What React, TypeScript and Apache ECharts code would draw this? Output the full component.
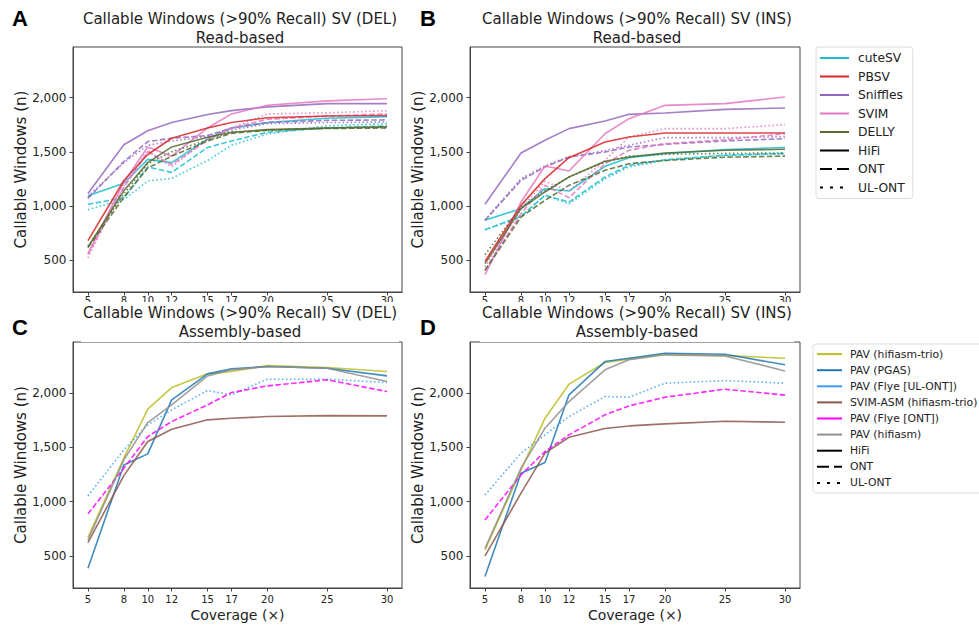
import React, { useEffect, useRef } from "react";
import * as echarts from "echarts";

const FONT = '"DejaVu Sans", "Noto Sans", sans-serif';

// Coverage (x) values
const coverage = [5, 8, 10, 12, 15, 17, 20, 25, 30];
const xTicks = [5, 8, 10, 12, 15, 17, 20, 25, 30];
const yTicks = [500, 1000, 1500, 2000];

// Panel A: DEL, read-based
const aCuteSvHifi = [1095, 1210, 1430, 1400, 1620, 1720, 1770, 1810, 1825];
const aCuteSvOnt = [1015, 1075, 1360, 1310, 1540, 1600, 1680, 1720, 1740];
const aCuteSvUl = [965, 1060, 1230, 1255, 1420, 1560, 1665, 1740, 1760];
const aPbsvHifi = [680, 1235, 1475, 1625, 1720, 1770, 1815, 1830, 1835];
const aSnifflesHifi = [1115, 1565, 1695, 1770, 1845, 1880, 1915, 1945, 1945];
const aSnifflesOnt = [1070, 1410, 1595, 1625, 1650, 1720, 1770, 1790, 1795];
const aSnifflesUl = [1085, 1400, 1560, 1600, 1640, 1700, 1760, 1770, 1775];
const aSvimHifi = [560, 1220, 1545, 1460, 1720, 1850, 1930, 1970, 1990];
const aSvimOnt = [550, 1170, 1500, 1380, 1610, 1720, 1800, 1830, 1850];
const aSvimUl = [520, 1190, 1510, 1360, 1620, 1720, 1850, 1860, 1880];
const aDellyHifi = [620, 1140, 1400, 1545, 1635, 1680, 1705, 1720, 1730];
const aDellyOnt = [615, 1080, 1350, 1460, 1600, 1670, 1700, 1715, 1720];
const aDellyUl = [630, 1110, 1390, 1500, 1610, 1680, 1700, 1720, 1725];

// Panel B: INS, read-based
const bCuteSvHifi = [867, 975, 1159, 1138, 1366, 1446, 1483, 1520, 1540];
const bCuteSvOnt = [781, 904, 1098, 1036, 1267, 1375, 1427, 1467, 1485];
const bCuteSvUl = [780, 900, 1100, 1020, 1250, 1360, 1420, 1470, 1480];
const bPbsvHifi = [488, 1005, 1252, 1446, 1590, 1637, 1674, 1674, 1674];
const bSnifflesHifi = [1015, 1489, 1606, 1714, 1784, 1846, 1858, 1892, 1905];
const bSnifflesOnt = [867, 1236, 1360, 1452, 1498, 1544, 1569, 1600, 1621];
const bSnifflesUl = [870, 1252, 1370, 1455, 1510, 1560, 1631, 1631, 1640];
const bSvimHifi = [365, 1036, 1369, 1323, 1667, 1806, 1929, 1945, 2006];
const bSvimOnt = [405, 929, 1190, 1076, 1390, 1514, 1575, 1612, 1667];
const bSvimUl = [436, 975, 1227, 1138, 1421, 1637, 1714, 1714, 1751];
const bDellyHifi = [467, 975, 1129, 1267, 1412, 1452, 1489, 1514, 1523];
const bDellyOnt = [405, 898, 1052, 1190, 1329, 1390, 1420, 1450, 1460];
const bDellyUl = [550, 990, 1140, 1267, 1405, 1460, 1477, 1485, 1490];

// Panel C: DEL, assembly-based
const cHifiasmTrio = [672, 1399, 1850, 2049, 2175, 2196, 2251, 2233, 2196];
const cPgas = [387, 1337, 1439, 1936, 2175, 2221, 2242, 2227, 2156];
const cFlyeUl = [1052, 1476, 1706, 1844, 2021, 1982, 2126, 2126, 2095];
const cSvimAsm = [623, 1239, 1552, 1666, 1752, 1767, 1782, 1791, 1788];
const cFlyeOnt = [887, 1307, 1598, 1736, 1890, 2003, 2064, 2120, 2012];
const cHifiasm = [647, 1384, 1727, 1890, 2156, 2212, 2242, 2227, 2104];

// Panel D: INS, assembly-based
const dHifiasmTrio = [555, 1292, 1767, 2080, 2279, 2310, 2356, 2343, 2319];
const dPgas = [310, 1261, 1359, 1982, 2288, 2319, 2365, 2356, 2258];
const dFlyeUl = [1061, 1445, 1614, 1782, 1966, 1960, 2089, 2113, 2089];
const dSvimAsm = [500, 1077, 1445, 1592, 1672, 1696, 1715, 1739, 1730];
const dFlyeOnt = [831, 1246, 1460, 1614, 1798, 1880, 1960, 2034, 1979];
const dHifiasm = [571, 1307, 1675, 1920, 2212, 2304, 2350, 2340, 2202];

const C_CUTESV = "#17becf";
const C_PBSV = "#d62728";
const C_SNIFFLES = "#9467bd";
const C_SVIM = "#e377c2";
const C_DELLY = "#556b2f";
const C_TRIO = "#bcbd22";
const C_PGAS = "#1f77b4";
const C_FLYEUL = "#3d9df5";
const C_SVIMASM = "#8c564b";
const C_FLYEONT = "#ff00ff";
const C_HIFIASM = "#8f8f8f";

const DASH = [5.5, 2.4];
const DOT = [1.5, 2.5];

function line(name: string, values: number[], color: string, type: any, idx: number) {
  return {
    type: "line",
    name,
    xAxisIndex: idx,
    yAxisIndex: idx,
    data: coverage.map((c, i) => [c, values[i]]),
    symbol: "none",
    showSymbol: false,
    silent: true,
    color,
    lineStyle: { color, width: 1.6, type, opacity: 0.85 },
    emphasis: { disabled: true },
  };
}

function legendSeries(name: string, color: string, type: any) {
  return {
    type: "line",
    name,
    xAxisIndex: 0,
    yAxisIndex: 0,
    data: [],
    symbol: "none",
    showSymbol: false,
    color,
    lineStyle: { color, width: 3, type },
  };
}

const grids = [
  { left: 73, top: 47, width: 329, height: 245 },
  { left: 470, top: 47, width: 330, height: 245 },
  { left: 73, top: 342, width: 329, height: 246 },
  { left: 470, top: 342, width: 330, height: 246 },
];

const AXIS_COLOR = "#444";

function xAxis(idx: number, bottomRow: boolean) {
  return {
    type: "value",
    gridIndex: idx,
    min: 3.75,
    max: 31.25,
    name: bottomRow ? "Coverage (×)" : "",
    nameLocation: "middle",
    nameGap: 20,
    nameTextStyle: { fontFamily: FONT, fontSize: 14, color: "#222" },
    axisLine: { show: true, onZero: false, lineStyle: { color: AXIS_COLOR, width: 1 } },
    axisTick: { show: true, length: 3.5, customValues: xTicks, lineStyle: { color: AXIS_COLOR } },
    axisLabel: {
      customValues: xTicks,
      fontFamily: FONT,
      fontSize: 10,
      color: "#222",
      margin: bottomRow ? 6 : 3,
    },
    splitLine: { show: false },
  };
}

function yAxis(idx: number) {
  return {
    type: "value",
    gridIndex: idx,
    min: 205,
    max: 2468,
    name: "Callable Windows (n)",
    nameLocation: "middle",
    nameGap: 44,
    nameTextStyle: { fontFamily: FONT, fontSize: 15, color: "#222" },
    axisLine: { show: true, lineStyle: { color: AXIS_COLOR, width: 1 } },
    axisTick: { show: true, length: 3.5, customValues: yTicks, lineStyle: { color: AXIS_COLOR } },
    axisLabel: {
      customValues: yTicks,
      fontFamily: FONT,
      fontSize: 12,
      color: "#222",
      margin: 6.5,
      formatter: (v: number) => v.toLocaleString("en-US"),
    },
    splitLine: { show: false },
  };
}

function panelTitle(text: string, cx: number, top: number, bg: boolean) {
  return {
    text,
    left: cx,
    top,
    textAlign: "center",
    padding: [1, 2, 0, 2],
    backgroundColor: bg ? "#fff" : "transparent",
    z: 8,
    textStyle: { fontFamily: FONT, fontSize: 15, fontWeight: "normal", color: "#222", lineHeight: 19.5 },
  };
}

function panelLetter(text: string, left: number, top: number) {
  return {
    text,
    left,
    top,
    padding: 0,
    z: 9,
    textStyle: { fontFamily: "Liberation Sans, Arial, sans-serif", fontSize: 22, fontWeight: "bold", color: "#000" },
  };
}

export default function App() {
  const ref = useRef<HTMLDivElement>(null);
  useEffect(() => {
    if (!ref.current) return;
    const chart = echarts.init(ref.current, undefined, { renderer: "svg" });
    const series: any[] = [
      legendSeries("cuteSV", C_CUTESV, "solid"),
      legendSeries("PBSV", C_PBSV, "solid"),
      legendSeries("Sniffles", C_SNIFFLES, "solid"),
      legendSeries("SVIM", C_SVIM, "solid"),
      legendSeries("DELLY", C_DELLY, "solid"),
      legendSeries("PAV (hifiasm-trio)", C_TRIO, "solid"),
      legendSeries("PAV (PGAS)", C_PGAS, "solid"),
      legendSeries("PAV (Flye [UL-ONT])", C_FLYEUL, "solid"),
      legendSeries("SVIM-ASM (hifiasm-trio)", C_SVIMASM, "solid"),
      legendSeries("PAV (Flye [ONT])", C_FLYEONT, "solid"),
      legendSeries("PAV (hifiasm)", C_HIFIASM, "solid"),
      legendSeries("HiFi", "#000", "solid"),
      legendSeries("ONT", "#000", [12, 5]),
      legendSeries("UL-ONT", "#000", [3, 7]),

      line("A cuteSV HiFi", aCuteSvHifi, C_CUTESV, "solid", 0),
      line("A cuteSV ONT", aCuteSvOnt, C_CUTESV, DASH, 0),
      line("A cuteSV UL-ONT", aCuteSvUl, C_CUTESV, DOT, 0),
      line("A Sniffles HiFi", aSnifflesHifi, C_SNIFFLES, "solid", 0),
      line("A Sniffles ONT", aSnifflesOnt, C_SNIFFLES, DASH, 0),
      line("A Sniffles UL-ONT", aSnifflesUl, C_SNIFFLES, DOT, 0),
      line("A SVIM HiFi", aSvimHifi, C_SVIM, "solid", 0),
      line("A SVIM ONT", aSvimOnt, C_SVIM, DASH, 0),
      line("A SVIM UL-ONT", aSvimUl, C_SVIM, DOT, 0),
      line("A DELLY HiFi", aDellyHifi, C_DELLY, "solid", 0),
      line("A DELLY ONT", aDellyOnt, C_DELLY, DASH, 0),
      line("A DELLY UL-ONT", aDellyUl, C_DELLY, DOT, 0),
      line("A PBSV HiFi", aPbsvHifi, C_PBSV, "solid", 0),

      line("B cuteSV HiFi", bCuteSvHifi, C_CUTESV, "solid", 1),
      line("B cuteSV ONT", bCuteSvOnt, C_CUTESV, DASH, 1),
      line("B cuteSV UL-ONT", bCuteSvUl, C_CUTESV, DOT, 1),
      line("B Sniffles HiFi", bSnifflesHifi, C_SNIFFLES, "solid", 1),
      line("B Sniffles ONT", bSnifflesOnt, C_SNIFFLES, DASH, 1),
      line("B Sniffles UL-ONT", bSnifflesUl, C_SNIFFLES, DOT, 1),
      line("B SVIM HiFi", bSvimHifi, C_SVIM, "solid", 1),
      line("B SVIM ONT", bSvimOnt, C_SVIM, DASH, 1),
      line("B SVIM UL-ONT", bSvimUl, C_SVIM, DOT, 1),
      line("B DELLY HiFi", bDellyHifi, C_DELLY, "solid", 1),
      line("B DELLY ONT", bDellyOnt, C_DELLY, DASH, 1),
      line("B DELLY UL-ONT", bDellyUl, C_DELLY, DOT, 1),
      line("B PBSV HiFi", bPbsvHifi, C_PBSV, "solid", 1),

      line("C PAV (hifiasm-trio)", cHifiasmTrio, C_TRIO, "solid", 2),
      line("C PAV (PGAS)", cPgas, C_PGAS, "solid", 2),
      line("C PAV (Flye [UL-ONT])", cFlyeUl, C_FLYEUL, DOT, 2),
      line("C SVIM-ASM (hifiasm-trio)", cSvimAsm, C_SVIMASM, "solid", 2),
      line("C PAV (Flye [ONT])", cFlyeOnt, C_FLYEONT, DASH, 2),
      line("C PAV (hifiasm)", cHifiasm, C_HIFIASM, "solid", 2),

      line("D PAV (hifiasm-trio)", dHifiasmTrio, C_TRIO, "solid", 3),
      line("D PAV (PGAS)", dPgas, C_PGAS, "solid", 3),
      line("D PAV (Flye [UL-ONT])", dFlyeUl, C_FLYEUL, DOT, 3),
      line("D SVIM-ASM (hifiasm-trio)", dSvimAsm, C_SVIMASM, "solid", 3),
      line("D PAV (Flye [ONT])", dFlyeOnt, C_FLYEONT, DASH, 3),
      line("D PAV (hifiasm)", dHifiasm, C_HIFIASM, "solid", 3),
    ];

    const option: any = {
      animation: false,
      backgroundColor: "#fff",
      title: [
        panelTitle("Callable Windows (>90% Recall) SV (DEL)\nRead-based", 238, 8, false),
        panelTitle("Callable Windows (>90% Recall) SV (INS)\nRead-based", 635, 8, false),
        panelTitle("Callable Windows (>90% Recall) SV (DEL)\nAssembly-based", 238, 302, true),
        panelTitle("Callable Windows (>90% Recall) SV (INS)\nAssembly-based", 635, 302, true),
        panelLetter("A", 12, 7),
        panelLetter("B", 420, 7),
        panelLetter("C", 12, 316),
        panelLetter("D", 420, 316),
      ],
      grid: grids.map((g) => ({
        ...g,
        show: true,
        borderColor: AXIS_COLOR,
        borderWidth: 1,
        backgroundColor: "transparent",
        containLabel: false,
      })),
      xAxis: [xAxis(0, false), xAxis(1, false), xAxis(2, true), xAxis(3, true)],
      yAxis: [yAxis(0), yAxis(1), yAxis(2), yAxis(3)],
      legend: [
        {
          orient: "vertical",
          left: 816,
          top: 47,
          padding: [5, 8, 5, 3],
          itemWidth: 29,
          itemHeight: 14,
          itemGap: 6.5,
          borderColor: "#ddd",
          borderWidth: 1,
          borderRadius: 3,
          selectedMode: false,
          itemStyle: { opacity: 0 },
          textStyle: { fontFamily: FONT, fontSize: 12.3, color: "#222", padding: [0, 0, 0, 4] },
          data: ["cuteSV", "PBSV", "Sniffles", "SVIM", "DELLY", "HiFi", "ONT", "UL-ONT"],
        },
        {
          orient: "vertical",
          left: 813,
          top: 344,
          padding: [4.6, 8, 4.6, 3],
          itemWidth: 25,
          itemHeight: 12,
          itemGap: 5.1,
          borderColor: "#ddd",
          borderWidth: 1,
          borderRadius: 3,
          selectedMode: false,
          itemStyle: { opacity: 0 },
          textStyle: { fontFamily: FONT, fontSize: 10.8, color: "#222", padding: [0, 0, 0, 3] },
          data: [
            "PAV (hifiasm-trio)",
            "PAV (PGAS)",
            "PAV (Flye [UL-ONT])",
            "SVIM-ASM (hifiasm-trio)",
            "PAV (Flye [ONT])",
            "PAV (hifiasm)",
            "HiFi",
            "ONT",
            "UL-ONT",
          ],
        },
      ],
      series,
    };
    chart.setOption(option);
    return () => chart.dispose();
  }, []);
  return (
    <div
      ref={ref}
      style={{ position: "absolute", left: 0, top: 0, width: 979, height: 626, background: "#fff" }}
    />
  );
}
